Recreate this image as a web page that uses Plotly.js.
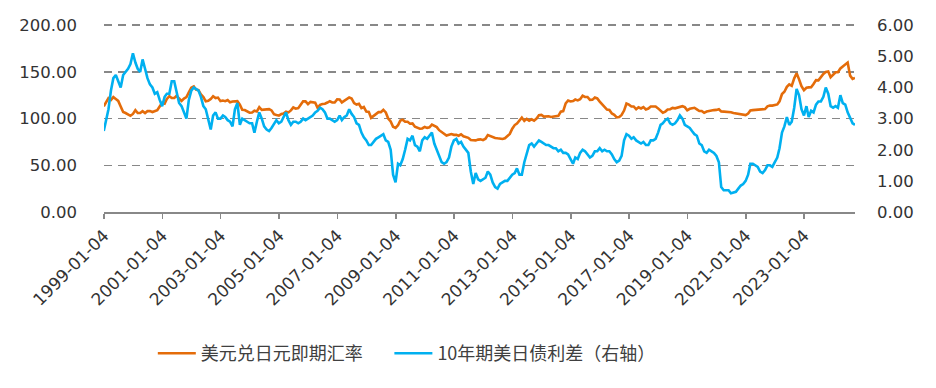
<!DOCTYPE html>
<html><head><meta charset="utf-8">
<script src="https://cdn.plot.ly/plotly-3.0.1.min.js"></script>
<style>html,body{margin:0;padding:0;background:#fff}#chart{width:936px;height:388px}</style>
</head><body><div id="chart"></div>
<script>
// monthly observations starting 1999-01
const startYear = 1999, startMonth = 1;
const seriesNames = ['美元兑日元即期汇率', '10年期美日债利差（右轴）'];
const tickLabels = ['1999-01-04','2001-01-04','2003-01-04','2005-01-04','2007-01-04','2009-01-04','2011-01-04','2013-01-04','2015-01-04','2017-01-04','2019-01-04','2021-01-04','2023-01-04'];
const xRange = ['1999-01-04', '2024-10-01'];
const leftTicks = [0, 50, 100, 150, 200];
const rightTicks = [0, 1, 2, 3, 4, 5, 6];
const topGrid = 200;
// USD/JPY spot (left axis)
const usdJpy = [
 113,118,122,120,123,121,119,113,107,106,104,103,
 105,109,106,106,108,106,108,108,107,108,109,113,
 117,116,121,124,122,122,124.5,121.5,119,121.5,123,128,
 133,134.5,131,130.5,126,123,118.5,119,121,124,122,122.5,
 118.7,119.3,118.7,119.9,117.4,118.3,118.7,118.7,115,109.5,109.2,107.7,
 106.3,106.6,108.5,107.7,112.2,109.4,109.4,110.2,110.1,108.8,104.7,103.8,
 103.3,104.9,105.3,107.3,106.6,108.8,111.9,110.6,111.2,114.8,118.5,118.5,
 115.5,117.9,117.3,117.1,111.6,114.7,115.6,115.9,117.2,118.6,117.3,117.3,
 120.6,120.5,117.3,118.8,120.8,122.6,121.6,116.7,115,115.9,111.2,112.4,
 107.6,107.2,100.8,102.7,104.4,106.9,106.9,109.3,106.6,100.1,96.9,91.3,
 90.1,92.9,97.9,98.8,96.6,96.6,94.5,94.9,91.3,90.3,89.1,89.5,
 91.1,90.1,90.7,93.5,91.9,90.9,87.6,85.5,84.4,81.8,82.6,83.4,
 82.6,82.6,81.7,83.2,81.1,80.5,79.4,77.1,76.8,76.7,77.5,77.8,
 76.9,78.5,82.4,81.4,79.7,79.3,78.9,78.7,78.2,78.9,80.8,83.6,
 89.2,93.1,94.8,97.8,101.1,97.5,99.7,97.8,99.2,97.8,100.1,103.5,
 103.9,102.1,102.3,102.5,101.8,102.1,101.8,102.9,107.4,108.0,116.4,119.4,
 118.3,118.8,120.4,119.5,120.8,124.5,123.3,123.2,120.0,120.1,122.6,121.6,
 118.2,115.0,113.1,109.7,109.2,105.5,104.1,101.3,101.8,103.9,108.6,116.1,
 115.0,113.0,113.0,110.1,112.2,110.9,112.4,109.8,110.8,112.9,112.9,112.9,
 110.9,107.8,106.2,107.5,109.7,110.1,111.4,111.0,111.9,112.8,113.3,112.3,
 108.9,110.5,111.2,111.6,109.9,108.1,108.2,106.2,107.5,108.2,108.9,109.1,
 109.3,110.0,107.7,107.6,107.2,107.6,106.8,106.0,105.6,105.2,104.4,103.8,
 103.7,105.4,108.7,109.1,109.2,110.1,110.2,109.8,110.2,113.1,114.0,113.9,
 114.8,115.2,118.5,126.3,128.7,134.0,136.7,135.1,143.1,148.5,142.0,134.8,
 130.4,133.0,133.4,133.5,137.0,141.2,140.9,144.9,147.9,150.0,150.5,144.3,
 146.5,149.6,149.7,153.7,155.9,158.5,160.0,146.0,142.5,143.5
];
// 10Y UST minus 10Y JGB yield spread, % (right axis)
const spread = [
 2.6,3.0,3.3,3.9,4.3,4.4,4.2,4.0,4.4,4.5,4.6,4.75,
 5.1,4.8,4.6,4.5,4.9,4.6,4.3,4.1,4.0,3.8,3.85,3.6,
 3.4,3.7,3.8,3.8,4.2,4.2,3.9,3.5,3.4,3.2,3.0,3.6,
 3.9,4.0,3.95,3.9,3.7,3.4,3.3,3.0,2.65,3.1,3.2,3.0,
 3.0,3.1,3.05,2.95,2.9,2.75,3.3,3.5,2.8,3.0,2.95,2.9,
 2.85,2.85,2.55,2.9,3.2,3.0,2.75,2.65,2.6,2.7,2.85,2.95,
 2.85,2.9,3.05,3.2,2.95,2.8,2.9,2.9,2.85,2.9,3.0,2.95,
 3.0,3.05,3.1,3.2,3.25,3.35,3.3,3.2,3.0,3.0,2.95,2.9,
 2.95,3.1,2.95,3.05,3.1,3.3,3.15,3.05,2.85,2.8,2.55,2.4,
 2.3,2.15,2.15,2.25,2.35,2.4,2.45,2.5,2.3,2.25,2.0,1.2,
 0.95,1.55,1.5,1.7,2.0,2.35,2.3,2.45,2.15,2.1,1.95,2.3,
 2.4,2.35,2.45,2.55,2.2,2.0,1.85,1.6,1.55,1.6,1.75,2.1,
 2.3,2.35,2.2,2.25,2.1,2.0,1.9,1.3,0.9,1.25,1.05,1.0,
 1.05,1.1,1.3,1.2,0.95,0.8,0.75,0.9,0.95,1.0,1.0,1.1,
 1.2,1.25,1.4,1.2,1.2,1.6,1.9,2.15,2.2,2.1,2.2,2.3,
 2.25,2.2,2.15,2.15,2.1,2.05,2.05,1.95,2.0,1.9,1.9,1.85,
 1.7,1.55,1.75,1.7,1.9,2.0,1.95,1.85,1.75,1.8,1.95,1.95,
 2.05,1.95,2.0,1.95,1.95,1.85,1.7,1.6,1.65,1.8,2.3,2.5,
 2.45,2.35,2.4,2.3,2.25,2.2,2.25,2.15,2.15,2.3,2.3,2.35,
 2.55,2.8,2.85,2.95,3.0,2.85,2.8,2.85,2.95,3.1,3.0,2.8,
 2.75,2.7,2.6,2.5,2.45,2.2,2.15,1.95,1.9,2.0,1.95,1.9,
 1.8,1.6,0.8,0.7,0.7,0.7,0.6,0.62,0.65,0.75,0.85,0.9,
 1.0,1.2,1.55,1.55,1.5,1.45,1.3,1.25,1.35,1.5,1.5,1.45,
 1.6,1.75,2.05,2.55,2.75,3.05,2.8,2.9,3.35,3.95,3.75,3.3,
 3.1,3.4,3.05,3.25,3.2,3.45,3.55,3.55,3.7,4.0,3.8,3.4,
 3.35,3.4,3.35,3.75,3.5,3.45,3.2,3.0,2.85,2.8
];

function monthDates(n) {
  const out = [];
  for (let i = 0; i < n; i++) {
    const y = startYear + Math.floor((startMonth - 1 + i) / 12);
    const m = ((startMonth - 1 + i) % 12) + 1;
    out.push(y + '-' + String(m).padStart(2, '0') + '-01');
  }
  return out;
}
const dates = monthDates(usdJpy.length);

const traces = [
  {x: dates, y: usdJpy, name: seriesNames[0], type: 'scatter', mode: 'lines',
   line: {color: '#E46C0A', width: 2.6}, yaxis: 'y', legend: 'legend'},
  {x: dates, y: spread, name: seriesNames[1], type: 'scatter', mode: 'lines',
   line: {color: '#00B0F0', width: 2.6}, yaxis: 'y2', legend: 'legend2'}
];
const tickFont = {family: 'DejaVu Sans', size: 16.5, color: '#333333'};
const legendFont = {family: 'Noto Sans CJK SC', size: 18, color: '#404040'};
const layout = {
  width: 936, height: 388,
  margin: {l: 104, r: 81, t: 13.5, b: 176, pad: 0},
  paper_bgcolor: '#ffffff', plot_bgcolor: 'rgba(0,0,0,0)',
  showlegend: true,
  shapes: [{type: 'line', xref: 'paper', yref: 'y', x0: 0, x1: 1, y0: topGrid, y1: topGrid,
    layer: 'above', line: {color: '#888888', width: 1.6, dash: '8px,6px'}}],
  legend: {orientation: 'h', x: 0.065, xanchor: 'left', y: -0.715, yanchor: 'middle',
    font: legendFont, itemwidth: 38, bgcolor: 'rgba(0,0,0,0)'},
  legend2: {orientation: 'h', x: 0.380, xanchor: 'left', y: -0.715, yanchor: 'middle',
    font: legendFont, itemwidth: 38, bgcolor: 'rgba(0,0,0,0)'},
  xaxis: {type: 'date', range: xRange, tickvals: tickLabels, ticktext: tickLabels,
    tickangle: -45, ticks: 'outside', ticklen: 5, tickwidth: 1.5, tickcolor: '#888888',
    showline: true, linecolor: '#888888', linewidth: 2, showgrid: false, zeroline: false,
    tickfont: {family: 'DejaVu Sans', size: 17, color: '#333333'}},
  yaxis: {range: [0, 212], tickvals: leftTicks, tickformat: '.2f', showgrid: true,
    gridcolor: '#888888', gridwidth: 1.6, griddash: '8px,6px',
    zeroline: false, showline: false, ticks: '', ticklabelstandoff: 26, tickfont: tickFont},
  yaxis2: {range: [0, 6.36], tickvals: rightTicks, tickformat: '.2f', overlaying: 'y', side: 'right',
    showgrid: false, zeroline: false, showline: false, ticks: '', ticklabelstandoff: 21,
    tickfont: tickFont}
};
Plotly.newPlot('chart', traces, layout, {displayModeBar: false, staticPlot: true});
</script></body></html>
